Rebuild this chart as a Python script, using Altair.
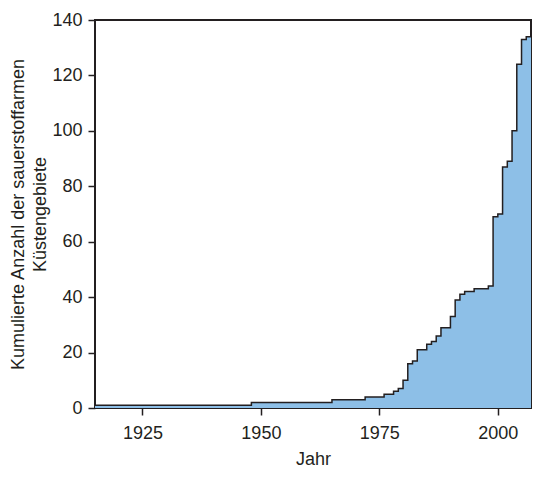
import altair as alt
import pandas as pd

years = [1915, 1948, 1965, 1972, 1976, 1978, 1979, 1980, 1981, 1982, 1983, 1985,
         1986, 1987, 1988, 1990, 1991, 1992, 1993, 1995, 1998, 1999, 2000, 2001,
         2002, 2003, 2004, 2005, 2006, 2007]
counts = [1, 2, 3, 4, 5, 6, 7, 10, 16, 17, 21, 23,
          24, 26, 29, 33, 39, 41, 42, 43, 44, 69, 70, 87,
          89, 100, 124, 133, 134, 134]

x_ticks = [1925, 1950, 1975, 2000]
y_ticks = [0, 20, 40, 60, 80, 100, 120, 140]

df = pd.DataFrame({"Jahr": years, "Anzahl": counts})

FONT = "Liberation Sans"
INK = "#231f20"

chart = alt.Chart(df).mark_area(
    interpolate="step-after",
    color="#8dbfe7",
    opacity=1,
    fillOpacity=1,
    line={"color": INK, "strokeWidth": 1.5},
).encode(
    x=alt.X("Jahr:Q",
            scale=alt.Scale(domain=[1915, 2007], nice=False, zero=False),
            axis=alt.Axis(values=x_ticks, format="d", title="Jahr",
                          labelPadding=9, titlePadding=8)),
    y=alt.Y("Anzahl:Q",
            scale=alt.Scale(domain=[0, 140], nice=False),
            axis=alt.Axis(values=y_ticks,
                          title=["Kumulierte Anzahl der sauerstoffarmen", "Küstengebiete"],
                          labelPadding=6, titlePadding=2, titleLineHeight=22)),
).properties(
    width=436,
    height=388,
    autosize=alt.AutoSizeParams(type="none"),
    padding={"left": 87, "top": 12, "right": 1, "bottom": 62},
).configure_view(
    stroke=INK,
    strokeWidth=2,
).configure_axis(
    domain=False,
    grid=False,
    ticks=True,
    tickSize=7,
    tickWidth=1.5,
    tickColor=INK,
    labelFont=FONT,
    labelFontSize=18,
    labelColor=INK,
    titleFont=FONT,
    titleFontSize=18,
    titleFontWeight="normal",
    titleColor=INK,
)

chart.save("out.html", embed_options={"renderer": "svg", "actions": False})
